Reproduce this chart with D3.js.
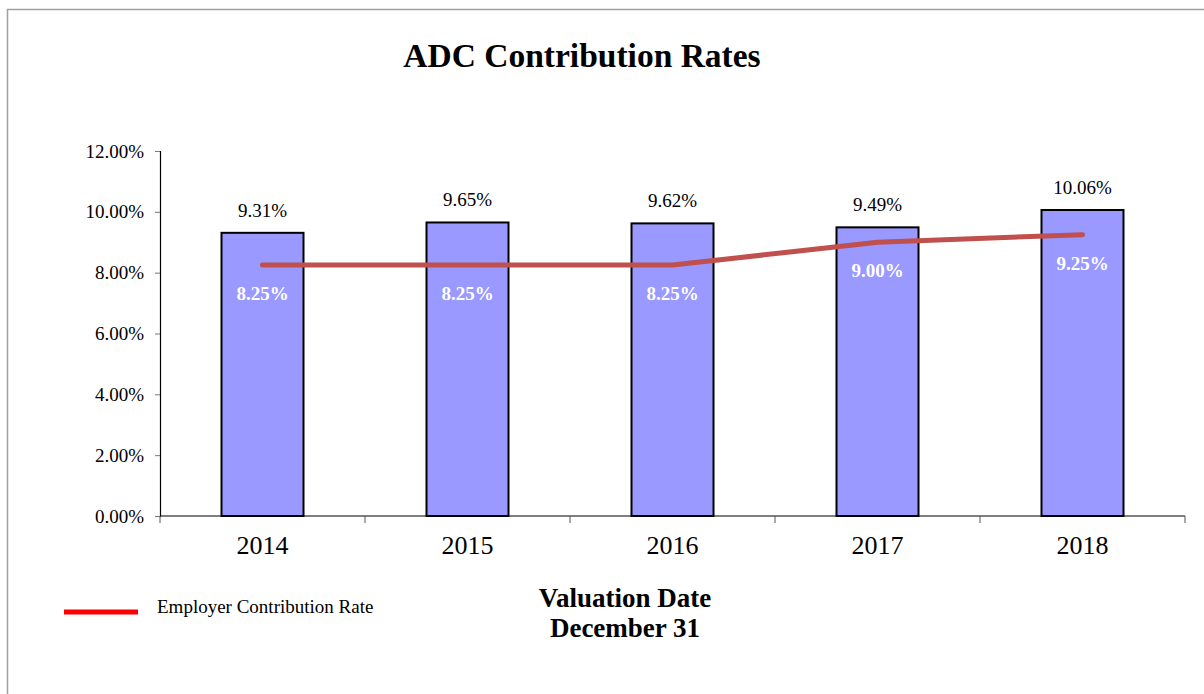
<!DOCTYPE html>
<meta charset="utf-8">
<style>
body { margin: 0; background: #fff; }
svg { display: block; }
text { font-family: "Liberation Serif", "Times New Roman", serif; fill: #000; }
</style>
<body>
<svg id="chart" width="1204" height="694"></svg>
<script src="https://cdnjs.cloudflare.com/ajax/libs/d3/7.8.5/d3.min.js"></script>
<script>

// data
var years = ["2014", "2015", "2016", "2017", "2018"];
var adcRates = [9.31, 9.65, 9.62, 9.49, 10.06];
var employerRates = [8.25, 8.25, 8.25, 9.00, 9.25];
var yTicks = [0, 2, 4, 6, 8, 10, 12];

var svg = d3.select("#chart");

var plotLeft = 160, plotRight = 1185, plotTop = 151, plotBottom = 516;

// outer frame
svg.append("rect")
    .attr("x", 7.5).attr("y", 9.5)
    .attr("width", 1210).attr("height", 700)
    .attr("fill", "none")
    .attr("stroke", "#a0a0a0")
    .attr("stroke-width", 1.5);

svg.append("text")
    .attr("x", 582).attr("y", 67)
    .attr("text-anchor", "middle")
    .style("font-size", "33.5px").style("font-weight", "bold")
    .text("ADC Contribution Rates");

var x = d3.scaleBand()
    .domain(years)
    .range([plotLeft, plotRight])
    .paddingInner(0.6)
    .paddingOuter(0.3);

var y = d3.scaleLinear()
    .domain([0, 12])
    .range([plotBottom, plotTop]);

// y axis
var yAxis = svg.append("g")
    .attr("transform", "translate(" + plotLeft + ",0)")
    .call(d3.axisLeft(y)
        .tickValues(yTicks)
        .tickSize(5)
        .tickPadding(11)
        .tickFormat(function(d) { return d.toFixed(2) + "%"; }));
yAxis.select(".domain").attr("stroke", "#000").attr("stroke-width", 1.2);
yAxis.selectAll(".tick line").attr("stroke", "#777");
yAxis.selectAll(".tick text")
    .style("font-size", "19px")
    .style("font-family", "'Liberation Serif', serif")
    .attr("fill", "#000");

// bars
var bw = x.bandwidth();
svg.selectAll(".bar")
    .data(adcRates)
    .enter().append("rect")
    .attr("class", "bar")
    .attr("x", function(d, i) { return x(years[i]); })
    .attr("y", function(d) { return y(d); })
    .attr("width", bw)
    .attr("height", function(d) { return y(0) - y(d); })
    .attr("fill", "#9999ff")
    .attr("stroke", "#000")
    .attr("stroke-width", 2);

svg.selectAll(".barlabel")
    .data(adcRates)
    .enter().append("text")
    .attr("class", "barlabel")
    .attr("x", function(d, i) { return x(years[i]) + bw / 2; })
    .attr("y", function(d) { return y(d) - 16; })
    .attr("text-anchor", "middle")
    .style("font-size", "19px")
    .text(function(d) { return d.toFixed(2) + "%"; });

// x axis
var xAxis = svg.append("g")
    .attr("transform", "translate(0," + plotBottom + ")")
    .call(d3.axisBottom(x).tickSize(0).tickPadding(20));
xAxis.select(".domain").remove();
xAxis.selectAll(".tick text")
    .style("font-size", "26px")
    .style("font-family", "'Liberation Serif', serif")
    .attr("fill", "#000");

svg.append("line")
    .attr("x1", plotLeft).attr("x2", plotRight)
    .attr("y1", plotBottom).attr("y2", plotBottom)
    .attr("stroke", "#000").attr("stroke-width", 1.2);

svg.selectAll(".xtick")
    .data(d3.range(years.length + 1))
    .enter().append("line")
    .attr("class", "xtick")
    .attr("x1", function(i) { return plotLeft + i * x.step(); })
    .attr("x2", function(i) { return plotLeft + i * x.step(); })
    .attr("y1", plotBottom).attr("y2", plotBottom + 7)
    .attr("stroke", "#555");

// employer rate line
var line = d3.line()
    .x(function(d, i) { return x(years[i]) + bw / 2; })
    .y(function(d) { return y(d); })
    .curve(d3.curveLinear);

svg.append("path")
    .datum(employerRates)
    .attr("d", line)
    .attr("fill", "none")
    .attr("stroke", "#c0504d")
    .attr("stroke-width", 5)
    .attr("stroke-linecap", "round")
    .attr("stroke-linejoin", "round");

svg.selectAll(".linelabel")
    .data(employerRates)
    .enter().append("text")
    .attr("class", "linelabel")
    .attr("x", function(d, i) { return x(years[i]) + bw / 2; })
    .attr("y", function(d) { return y(d) + 35; })
    .attr("text-anchor", "middle")
    .style("font-size", "19px").style("font-weight", "bold")
    .style("fill", "#fff")
    .text(function(d) { return d.toFixed(2) + "%"; });

// legend
svg.append("line")
    .attr("x1", 64).attr("x2", 138)
    .attr("y1", 612).attr("y2", 612)
    .attr("stroke", "#ff0000").attr("stroke-width", 5);
svg.append("text")
    .attr("x", 157).attr("y", 613)
    .style("font-size", "19px")
    .text("Employer Contribution Rate");

// axis title
svg.append("text")
    .attr("x", 625).attr("y", 607)
    .attr("text-anchor", "middle")
    .style("font-size", "27px").style("font-weight", "bold")
    .text("Valuation Date");
svg.append("text")
    .attr("x", 625).attr("y", 637)
    .attr("text-anchor", "middle")
    .style("font-size", "27px").style("font-weight", "bold")
    .text("December 31");

</script>
</body>
